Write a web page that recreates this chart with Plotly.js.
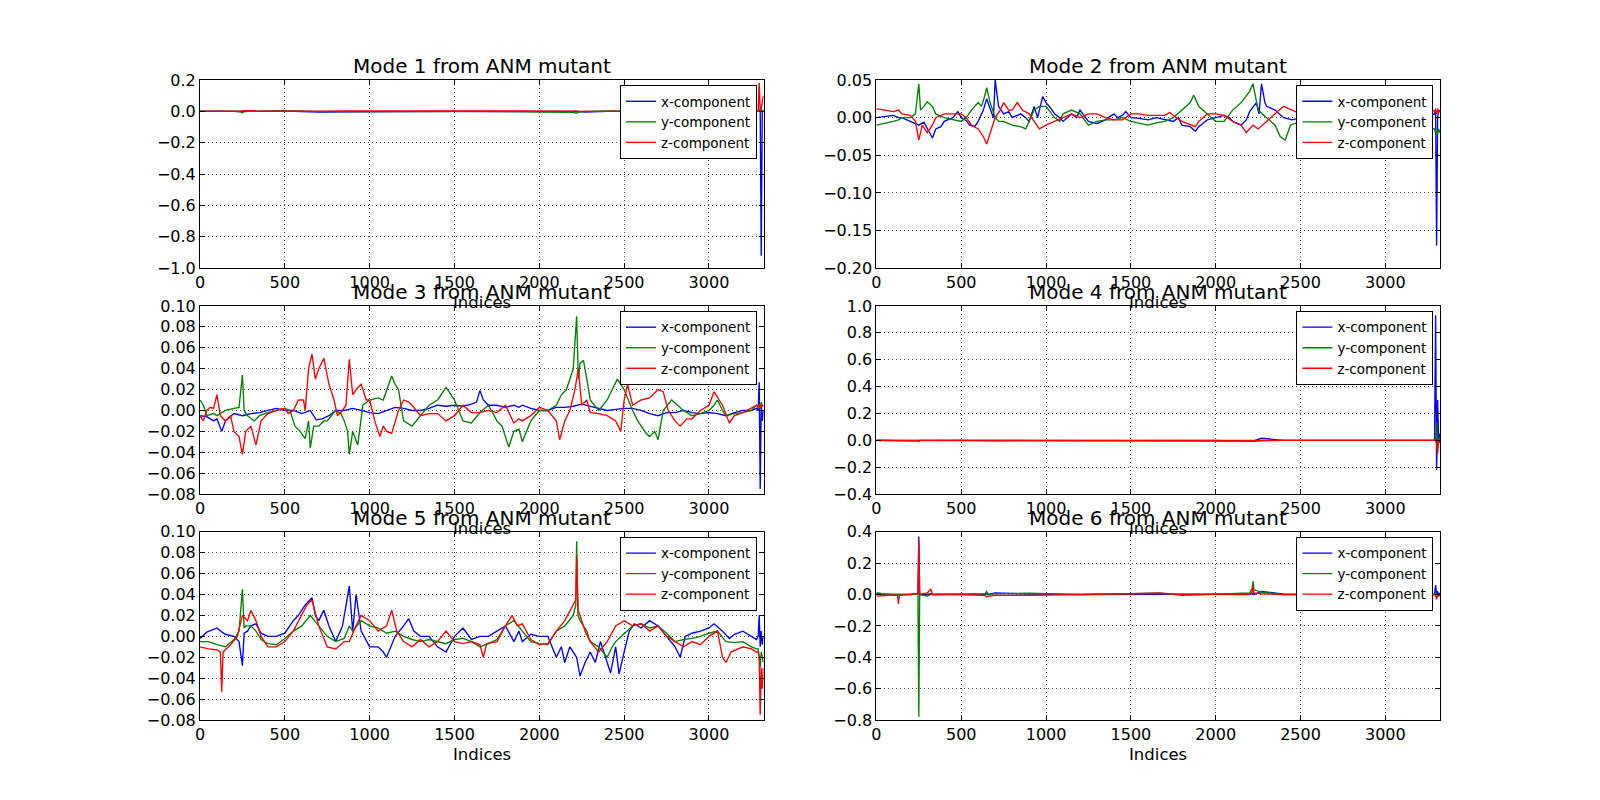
<!DOCTYPE html>
<html>
<head>
<meta charset="utf-8">
<script src="https://cdn.plot.ly/plotly-3.0.1.min.js"></script>
<style>
  html, body { margin: 0; padding: 0; background: #fff; }
  #chart { width: 1600px; height: 800px; }
</style>
</head>
<body>
<div id="chart"></div>
<script>
// indices of the last few atoms, where every mode has its end spike
const tailIdx = [3290, 3296, 3302, 3308, 3314, 3321];

// flat modes (1, 4, 6) are read at these indices only
const flatIdx = [0, 60, 100, 125, 130, 135, 200, 245, 250, 255, 300, 320, 330, 500, 640, 650, 660, 700, 900,
  1200, 1500, 1670, 1800, 2000, 2200, 2215, 2220, 2225, 2270, 2400, 2700, 3000, 3280];

// Mode 1
const m1x = [0.002, 0.003, 0.002, 0.002, 0.002, 0.002, 0.0, 0.0, -0.005, 0.0, 0.002, 0.0, 0.0, 0.002, -0.003, -0.004, -0.002,
  -0.004, -0.003, 0.0, 0.0, -0.002, -0.003, 0.0, 0.0, 0.0, 0.003, 0.0, -0.004, 0.0, 0.0, 0.0, 0.002];
const m1y = [0.0, -0.002, -0.002, 0.0, 0.0, 0.0, 0.0, -0.004, -0.01, -0.003, 0.002, 0.0, 0.0, 0.002, 0.003, 0.002, 0.0,
  -0.002, -0.003, 0.0, -0.002, 0.0, 0.0, -0.004, -0.006, -0.008, -0.012, -0.006, 0.0, 0.003, 0.0, 0.0, 0.0];
const m1z = [0.0, 0.002, 0.0, 0.0, 0.0, 0.0, 0.002, 0.003, 0.006, 0.004, 0.005, 0.004, 0.002, 0.001, 0.004, 0.003, 0.002,
  0.001, 0.003, 0.002, 0.0, 0.0, 0.002, 0.0, 0.002, 0.003, 0.005, 0.002, 0.0, 0.0, 0.0, 0.0, 0.0];
const m1xTail = [0.002, 0.0, 0.01, -0.92, 0.0, 0.005];
const m1yTail = [0.0, 0.01, 0.0, 0.02, 0.0, 0.01];
const m1zTail = [0.0, 0.18, 0.0, 0.02, 0.05, 0.1];

// Mode 2 [index, value]
const m2x = [[0,0.0],[50,0.002],[100,0.003],[130,0.0],[150,0.0],[200,-0.005],[230,-0.008],[250,-0.01],[280,-0.006],[300,-0.015],
  [330,-0.027],[350,-0.015],[380,-0.012],[400,-0.005],[450,0.0],[480,0.008],[500,0.0],[530,-0.004],[550,-0.01],[580,-0.012],
  [600,-0.005],[630,0.01],[650,0.025],[670,0.012],[690,0.0],[700,0.05],[720,0.015],[750,0.005],[780,0.008],[800,0.0],
  [850,0.005],[880,0.0],[900,-0.005],[930,0.015],[950,0.0],[980,0.028],[1000,0.02],[1030,0.012],[1050,0.005],[1080,0.0],
  [1100,-0.005],[1150,0.005],[1180,0.0],[1200,0.01],[1230,0.0],[1250,-0.005],[1300,-0.008],[1350,-0.003],[1380,0.002],[1400,0.005],
  [1420,0.0],[1450,0.003],[1470,0.008],[1500,0.0],[1550,-0.001],[1600,-0.003],[1650,0.0],[1700,-0.003],[1750,-0.005],[1780,0.0],
  [1800,-0.01],[1850,-0.012],[1880,-0.018],[1900,-0.012],[1950,-0.003],[2000,0.0],[2050,0.003],[2080,0.0],[2100,-0.005],[2150,-0.01],
  [2180,-0.003],[2200,0.008],[2240,0.02],[2255,0.005],[2270,0.045],[2290,0.02],[2300,0.015],[2350,0.01],[2400,0.0],[2450,-0.003],
  [2500,0.0],[2600,0.002],[2700,0.0],[2800,-0.003],[2900,0.0],[3000,0.002],[3100,0.0],[3200,0.003],[3280,0.005]];
const m2y = [[0,-0.01],[50,-0.008],[100,-0.005],[130,-0.003],[150,0.0],[200,0.0],[230,0.005],[250,0.045],[260,0.01],[280,0.015],
  [300,0.021],[330,0.015],[350,0.005],[400,0.0],[450,-0.003],[500,-0.005],[530,0.0],[560,0.01],[600,0.02],[620,0.015],
  [640,0.03],[650,0.04],[670,0.02],[700,0.0],[720,-0.005],[750,-0.005],[800,-0.01],[850,-0.012],[880,-0.015],[900,-0.005],
  [930,0.01],[960,0.015],[1000,0.015],[1050,0.0],[1080,-0.005],[1100,0.005],[1150,0.01],[1200,0.005],[1250,-0.01],[1300,-0.005],
  [1350,-0.003],[1400,-0.003],[1450,0.0],[1500,-0.005],[1550,-0.008],[1600,-0.01],[1650,-0.007],[1700,-0.005],[1750,0.0],[1800,0.01],
  [1850,0.02],[1870,0.03],[1900,0.015],[1950,0.005],[2000,-0.005],[2050,-0.005],[2100,0.01],[2150,0.02],[2200,0.035],[2220,0.045],
  [2250,0.01],[2300,0.0],[2350,-0.01],[2380,-0.025],[2410,-0.03],[2440,-0.01],[2500,-0.005],[2600,-0.01],[2700,-0.015],[2800,-0.01],
  [2900,-0.005],[3000,-0.01],[3100,-0.015],[3200,-0.012],[3280,-0.015]];
const m2z = [[0,0.012],[50,0.01],[100,0.008],[130,0.01],[150,0.005],[200,0.003],[230,-0.005],[250,-0.03],[270,-0.01],[300,-0.02],
  [330,-0.01],[350,0.0],[400,0.005],[450,0.005],[500,0.005],[530,0.0],[560,-0.01],[600,-0.015],[630,-0.025],[650,-0.035],
  [680,-0.015],[700,0.0],[730,0.01],[750,0.02],[780,0.01],[800,0.01],[830,0.02],[860,0.01],[900,0.005],[930,-0.005],
  [960,-0.015],[1000,-0.01],[1050,-0.005],[1100,0.0],[1150,0.005],[1200,0.0],[1250,0.005],[1300,0.005],[1350,0.0],[1400,-0.003],
  [1450,-0.003],[1500,0.005],[1550,0.005],[1600,0.003],[1650,0.003],[1700,0.003],[1730,0.007],[1750,0.003],[1800,-0.005],[1850,-0.01],
  [1880,-0.012],[1900,-0.005],[1950,0.005],[2000,0.005],[2050,0.003],[2100,-0.005],[2150,-0.01],[2180,-0.02],[2220,-0.01],[2250,-0.015],
  [2300,-0.005],[2350,0.005],[2400,0.015],[2450,0.01],[2500,0.005],[2600,0.0],[2700,0.005],[2800,0.0],[2900,0.005],[3000,0.0],
  [3100,0.005],[3200,0.008],[3280,0.01]];
const m2xTail = [0.005, 0.012, -0.17, 0.0, 0.01, 0.008];
const m2yTail = [-0.015, -0.02, -0.018, -0.022, -0.015, -0.02];
const m2zTail = [0.008, 0.01, 0.005, 0.012, 0.006, 0.01];

// Mode 3
const m3x = [[0,-0.005],[40,-0.006],[80,-0.01],[100,-0.008],[128,-0.02],[150,-0.01],[200,-0.003],[250,-0.005],[300,-0.003],[350,-0.002],
  [400,0.0],[450,0.002],[500,0.0],[550,0.0],[600,-0.003],[650,0.0],[685,-0.009],[720,-0.008],[760,-0.005],[800,0.0],
  [850,0.0],[900,0.002],[950,0.0],[1000,-0.002],[1050,-0.003],[1100,0.0],[1150,0.003],[1200,0.002],[1250,0.0],[1300,0.0],
  [1350,0.002],[1400,0.005],[1450,0.004],[1500,0.005],[1550,0.004],[1600,0.006],[1630,0.008],[1650,0.019],[1670,0.01],[1700,0.005],
  [1750,0.005],[1800,0.003],[1850,0.005],[1880,0.003],[1900,0.005],[1950,0.002],[2000,0.0],[2050,0.0],[2100,0.003],[2150,0.003],
  [2200,0.004],[2250,0.006],[2300,0.004],[2350,0.002],[2400,0.0],[2450,0.001],[2500,0.002],[2550,0.002],[2600,0.0],[2650,-0.003],
  [2700,-0.005],[2750,-0.002],[2800,-0.002],[2850,0.0],[2900,-0.002],[2950,-0.003],[3000,-0.002],[3050,-0.003],[3100,-0.005],[3150,-0.002],
  [3200,0.0],[3250,0.0],[3280,0.002]];
const m3y = [[0,0.01],[20,0.005],[40,-0.005],[80,-0.003],[100,-0.005],[150,0.0],[200,0.002],[230,0.003],[250,0.034],[260,0.0],
  [280,-0.005],[320,-0.01],[350,-0.005],[400,-0.002],[450,0.0],[500,0.002],[530,0.0],[560,-0.015],[590,-0.02],[620,-0.027],
  [640,-0.01],[650,-0.036],[670,-0.015],[700,-0.015],[730,-0.01],[750,-0.01],[800,0.0],[830,-0.003],[850,-0.01],[870,-0.02],
  [880,-0.042],[900,-0.02],[930,-0.033],[960,0.005],[1000,0.01],[1050,0.012],[1080,0.01],[1100,0.02],[1130,0.033],[1150,0.025],
  [1170,0.02],[1200,-0.01],[1250,-0.015],[1300,-0.005],[1350,0.005],[1400,0.01],[1450,0.022],[1480,0.015],[1500,0.01],[1550,-0.01],
  [1600,-0.012],[1650,-0.002],[1700,0.005],[1750,-0.01],[1780,-0.015],[1800,-0.025],[1820,-0.035],[1850,-0.02],[1880,-0.018],[1900,-0.03],
  [1950,-0.01],[2000,0.0],[2050,0.0],[2100,0.005],[2130,0.015],[2160,0.02],[2180,0.03],[2200,0.04],[2220,0.09],[2230,0.03],
  [2240,0.045],[2260,0.048],[2280,0.03],[2300,0.01],[2350,0.0],[2400,0.01],[2430,0.02],[2460,0.03],[2500,0.02],[2550,0.0],
  [2580,-0.01],[2600,-0.015],[2630,-0.022],[2650,-0.025],[2680,-0.02],[2700,-0.028],[2730,0.0],[2780,0.01],[2850,0.0],[2900,-0.005],
  [2950,-0.003],[3000,0.0],[3030,0.005],[3050,0.01],[3080,0.0],[3100,-0.005],[3150,-0.003],[3200,-0.002],[3250,0.0],[3280,0.005]];
const m3z = [[0,-0.005],[20,-0.01],[40,0.0],[60,0.003],[80,0.002],[100,0.015],[120,-0.005],[150,-0.01],[180,-0.005],[200,-0.02],
  [230,-0.025],[250,-0.042],[270,-0.02],[300,-0.015],[330,-0.033],[360,-0.01],[400,-0.003],[450,0.0],[500,0.002],[520,-0.003],
  [550,0.0],[580,0.01],[610,0.01],[620,0.0],[640,0.04],[660,0.054],[680,0.03],[700,0.04],[730,0.05],[760,0.025],
  [790,0.01],[810,-0.005],[840,0.0],[860,0.005],[880,0.049],[900,0.015],[920,0.02],[950,0.025],[980,0.01],[1000,0.01],
  [1030,-0.01],[1060,-0.025],[1080,-0.015],[1100,-0.02],[1130,-0.022],[1170,0.0],[1200,0.01],[1230,0.008],[1250,0.005],[1300,-0.005],
  [1350,-0.003],[1400,-0.003],[1450,-0.01],[1500,-0.005],[1550,0.005],[1600,-0.002],[1650,-0.002],[1700,0.0],[1750,-0.002],[1800,0.005],
  [1850,-0.012],[1880,-0.008],[1900,-0.01],[1950,-0.005],[2000,0.003],[2050,0.0],[2100,-0.01],[2120,-0.028],[2150,-0.01],[2180,0.0],
  [2210,0.02],[2230,0.04],[2250,0.005],[2280,0.01],[2300,-0.002],[2350,-0.003],[2400,-0.005],[2450,-0.01],[2480,-0.02],[2500,0.01],
  [2520,0.025],[2550,0.005],[2600,0.01],[2650,0.012],[2700,0.02],[2730,0.018],[2760,0.0],[2800,-0.01],[2830,-0.015],[2870,-0.008],
  [2900,-0.008],[2950,0.0],[3000,0.005],[3030,0.018],[3060,0.01],[3080,0.005],[3120,-0.012],[3150,-0.005],[3200,-0.002],[3250,0.002],
  [3280,0.005]];
const m3xTail = [0.0, 0.027, -0.075, 0.005, -0.01, 0.0];
const m3yTail = [0.003, 0.006, 0.002, 0.008, 0.004, 0.005];
const m3zTail = [0.004, 0.002, 0.006, 0.003, 0.005, 0.004];

// Mode 4
const m4x = [0.002, 0.0, 0.0, 0.0, 0.0, 0.0, 0.0, 0.0, -0.003, 0.0, 0.0, 0.0, 0.0, 0.0, -0.004, -0.005, -0.004,
  -0.003, -0.002, 0.0, 0.0, 0.0, 0.0, 0.0, -0.005, -0.008, -0.006, -0.004, 0.015, 0.0, 0.0, 0.0, 0.0];
const m4y = [0.0, 0.0, 0.0, 0.0, 0.0, 0.0, 0.0, -0.005, -0.01, 0.0, 0.0, 0.0, 0.0, 0.0, 0.0, 0.0, 0.0,
  0.0, 0.0, 0.0, 0.0, 0.0, 0.0, 0.0, -0.006, -0.01, -0.012, -0.008, -0.004, 0.0, 0.0, 0.0, 0.0];
const m4z = [-0.002, -0.002, 0.0, 0.0, 0.0, 0.0, 0.0, 0.0, 0.002, 0.0, 0.0, 0.0, 0.0, 0.0, -0.004, -0.005, -0.004,
  -0.003, -0.002, 0.0, 0.0, 0.0, 0.0, 0.0, 0.0, 0.0, 0.002, 0.0, 0.0, 0.0, 0.0, 0.0, 0.0];
const m4xTail = [0.0, 0.93, -0.22, 0.3, 0.0, 0.05];
const m4yTail = [0.0, 0.0, 0.13, -0.05, 0.0, 0.02];
const m4zTail = [0.0, 0.0, -0.03, -0.1, 0.0, -0.02];

// Mode 5
const m5x = [[0,-0.002],[40,0.004],[70,0.006],[100,0.008],[130,0.004],[150,0.002],[200,0.0],[230,-0.005],[250,-0.028],[260,0.003],
  [280,0.005],[300,0.01],[330,0.012],[360,0.003],[400,0.0],[450,0.0],[500,0.003],[550,0.015],[580,0.02],[620,0.03],
  [660,0.037],[680,0.02],[700,0.015],[730,0.025],[760,0.01],[800,-0.005],[840,0.01],[880,0.048],[900,0.005],[920,0.04],
  [950,0.005],[1000,-0.01],[1050,-0.01],[1080,-0.015],[1100,-0.02],[1150,0.0],[1200,0.01],[1230,0.017],[1260,0.005],[1300,0.0],
  [1350,0.0],[1400,-0.01],[1450,-0.015],[1500,0.0],[1550,0.008],[1600,-0.003],[1650,0.0],[1700,0.0],[1750,0.005],[1800,0.01],
  [1850,-0.005],[1880,0.005],[1900,-0.005],[1950,0.002],[2000,0.0],[2050,0.0],[2100,-0.02],[2130,-0.01],[2150,-0.025],[2180,-0.01],
  [2220,-0.02],[2240,-0.038],[2270,-0.025],[2300,-0.015],[2330,-0.025],[2360,-0.005],[2400,-0.025],[2420,-0.035],[2450,-0.01],[2470,-0.036],
  [2500,-0.015],[2530,0.005],[2560,0.012],[2600,0.008],[2650,0.015],[2700,0.01],[2750,0.0],[2800,-0.01],[2830,-0.02],[2860,0.0],
  [2900,0.003],[2950,0.005],[3000,0.008],[3030,0.012],[3080,0.005],[3120,-0.002],[3150,0.002],[3200,0.005],[3250,0.0],[3280,-0.003]];
const m5y = [[0,-0.005],[50,-0.005],[100,-0.008],[150,-0.01],[200,-0.003],[230,0.005],[250,0.045],[260,0.008],[270,0.01],[300,0.01],
  [330,0.005],[360,-0.003],[400,-0.007],[450,-0.008],[500,-0.002],[550,0.005],[600,0.01],[650,0.02],[700,0.01],[750,0.0],
  [800,-0.005],[850,-0.002],[880,0.01],[900,0.005],[950,0.015],[1000,0.01],[1050,0.008],[1100,0.003],[1150,0.005],[1200,0.0],
  [1250,-0.003],[1300,-0.005],[1350,-0.003],[1400,-0.005],[1450,-0.007],[1500,-0.003],[1550,-0.002],[1600,-0.005],[1650,-0.01],[1700,-0.007],
  [1750,-0.003],[1800,0.01],[1850,0.015],[1900,0.005],[1950,-0.005],[2000,-0.007],[2050,-0.008],[2100,0.005],[2150,0.01],[2200,0.02],
  [2215,0.03],[2220,0.091],[2228,0.02],[2240,0.015],[2280,0.005],[2300,-0.005],[2350,-0.01],[2400,-0.02],[2430,-0.01],[2450,-0.005],
  [2500,0.003],[2550,0.01],[2600,0.012],[2650,0.008],[2700,0.01],[2750,0.003],[2800,-0.005],[2850,-0.003],[2900,-0.002],[2950,0.0],
  [3000,0.003],[3050,0.005],[3100,-0.005],[3150,-0.006],[3200,-0.005],[3250,-0.01],[3280,-0.012]];
const m5z = [[0,-0.01],[50,-0.012],[100,-0.013],[120,-0.015],[128,-0.053],[136,-0.015],[180,-0.008],[220,0.0],[250,0.02],[280,0.015],
  [300,0.025],[330,0.015],[360,0.0],[400,-0.01],[450,-0.01],[500,-0.005],[550,0.005],[600,0.02],[630,0.03],[660,0.035],
  [700,0.01],[750,-0.01],[800,-0.012],[850,-0.005],[880,-0.005],[920,0.01],[950,0.02],[1000,0.015],[1050,0.005],[1100,0.01],
  [1130,0.025],[1160,0.005],[1200,-0.005],[1250,-0.01],[1300,-0.003],[1350,-0.01],[1400,-0.005],[1450,0.005],[1500,-0.005],[1550,-0.007],
  [1600,-0.005],[1650,-0.008],[1670,-0.02],[1690,-0.007],[1750,-0.005],[1800,0.01],[1840,0.02],[1870,0.01],[1900,0.012],[1950,-0.003],
  [2000,-0.008],[2050,-0.007],[2100,0.005],[2150,0.015],[2200,0.03],[2215,0.035],[2220,0.077],[2228,0.025],[2240,0.02],[2270,0.005],
  [2300,-0.005],[2350,-0.015],[2400,-0.005],[2450,0.01],[2500,0.015],[2550,0.01],[2600,0.012],[2650,0.005],[2700,0.01],[2750,0.0],
  [2800,-0.005],[2850,-0.01],[2900,-0.005],[2950,-0.008],[3000,0.0],[3050,0.005],[3080,-0.02],[3100,-0.025],[3130,-0.015],[3200,-0.01],
  [3250,-0.012],[3280,-0.015]];
const m5xTail = [0.0, 0.02, -0.01, 0.005, -0.008, 0.0];
const m5yTail = [-0.012, -0.02, -0.03, -0.015, -0.02, -0.025];
const m5zTail = [-0.015, -0.02, -0.075, -0.03, -0.05, -0.03];

// Mode 6
const m6x = [0.005, 0.0, 0.0, 0.0, 0.0, 0.0, 0.0, 0.005, 0.37, 0.0, 0.0, 0.005, 0.0, 0.002, 0.0, 0.005, 0.0,
  0.01, 0.003, 0.0, 0.003, 0.005, 0.002, 0.002, 0.0, 0.005, 0.01, 0.0, 0.02, 0.003, 0.002, 0.002, 0.0];
const m6y = [0.012, 0.0, 0.0, 0.0, 0.0, 0.0, 0.0, 0.005, -0.78, 0.0, -0.01, 0.0, 0.0, 0.003, 0.005, 0.02, 0.0,
  0.005, 0.008, 0.0, 0.005, 0.01, -0.005, 0.002, 0.01, 0.04, 0.085, 0.03, 0.015, 0.0, 0.002, 0.0, 0.0];
const m6z = [-0.01, -0.005, -0.003, -0.005, -0.06, -0.005, 0.0, 0.005, 0.34, 0.0, 0.01, 0.035, 0.0, 0.0, -0.005, -0.015, -0.01,
  -0.005, -0.005, 0.0, 0.002, 0.008, 0.0, 0.0, 0.002, 0.02, 0.055, 0.01, 0.005, 0.0, 0.0, 0.0, 0.0];
const m6xTail = [0.0, 0.06, 0.0, 0.02, 0.0, 0.01];
const m6yTail = [0.0, 0.01, 0.0, -0.005, 0.0, 0.0];
const m6zTail = [0.0, -0.005, -0.03, 0.0, -0.01, 0.0];

const compNames = ['x-component', 'y-component', 'z-component'];
const compColors = ['#0000ff', '#008000', '#ff0000'];
const yRanges = [[-1.0, 0.2], [-0.2, 0.05], [-0.08, 0.10], [-0.4, 1.0], [-0.08, 0.10], [-0.8, 0.4]];
const yDticks = [0.2, 0.05, 0.02, 0.2, 0.02, 0.2];
const yFormats = ['.1f', '.2f', '.2f', '.1f', '.2f', '.1f'];
const xTicks = [0, 500, 1000, 1500, 2000, 2500, 3000];

function fromPairs(p, tail) {
    return { x: p.map(d => d[0]).concat(tailIdx), y: p.map(d => d[1]).concat(tail) };
}
function fromFlat(v, tail) {
    return { x: flatIdx.concat(tailIdx), y: v.concat(tail) };
}

const modes = [
    [fromFlat(m1x, m1xTail), fromFlat(m1y, m1yTail), fromFlat(m1z, m1zTail)],
    [fromPairs(m2x, m2xTail), fromPairs(m2y, m2yTail), fromPairs(m2z, m2zTail)],
    [fromPairs(m3x, m3xTail), fromPairs(m3y, m3yTail), fromPairs(m3z, m3zTail)],
    [fromFlat(m4x, m4xTail), fromFlat(m4y, m4yTail), fromFlat(m4z, m4zTail)],
    [fromPairs(m5x, m5xTail), fromPairs(m5y, m5yTail), fromPairs(m5z, m5zTail)],
    [fromFlat(m6x, m6xTail), fromFlat(m6y, m6yTail), fromFlat(m6z, m6zTail)]
];

// matplotlib default subplot grid (16x8 in @ 100 dpi): 2 cols x 3 rows
const W = 1600, H = 800;
const colPx = [[200, 763.6], [876.4, 1440]];
const rowPx = [[80, 268.2], [305.9, 494.1], [531.8, 720]];
const FONT = 'DejaVu Sans, Verdana, sans-serif';

const traces = [];
const layout = {
    width: W, height: H, margin: {l: 0, r: 0, t: 0, b: 0},
    paper_bgcolor: '#fff', plot_bgcolor: '#fff',
    font: {family: FONT, color: '#000'},
    annotations: []
};

modes.forEach((series, i) => {
    const n = i + 1;
    const sfx = n === 1 ? '' : String(n);
    const col = i % 2, row = Math.floor(i / 2);
    const [x0, x1] = colPx[col], [y0, y1] = rowPx[row];

    series.forEach((s, k) => {
        traces.push({
            x: s.x, y: s.y, type: 'scatter', mode: 'lines',
            name: compNames[k], line: {color: compColors[k], width: 1.35},
            xaxis: 'x' + sfx, yaxis: 'y' + sfx, legend: 'legend' + sfx,
            hoverinfo: 'skip'
        });
    });

    const common = {
        showline: true, linecolor: '#000', linewidth: 1, mirror: 'ticks',
        ticks: 'inside', ticklen: 5, tickwidth: 1, tickcolor: '#000',
        showgrid: true, gridcolor: '#000', gridwidth: 0.7, griddash: '1px,3px',
        zeroline: false, tickfont: {family: FONT, size: 16, color: '#000'}
    };
    layout['xaxis' + sfx] = Object.assign({}, common, {
        domain: [x0 / W, x1 / W], anchor: 'y' + sfx,
        range: [0, 3322], tickvals: xTicks
    });
    layout['yaxis' + sfx] = Object.assign({}, common, {
        domain: [1 - y1 / H, 1 - y0 / H], anchor: 'x' + sfx,
        range: yRanges[i], tick0: 0, dtick: yDticks[i], tickformat: yFormats[i]
    });
    layout['legend' + sfx] = {
        x: (x1 - 6.6) / W, y: 1 - (y0 + 5) / H, xanchor: 'right', yanchor: 'top',
        xref: 'paper', yref: 'paper',
        bgcolor: '#fff', bordercolor: '#000', borderwidth: 1,
        font: {family: FONT, size: 13.5, color: '#000'},
        itemwidth: 30, tracegroupgap: 0
    };
    layout.annotations.push({
        text: 'Mode ' + n + ' from ANM mutant', showarrow: false,
        xref: 'paper', yref: 'paper', x: (x0 + x1) / 2 / W, y: 1 - (y0 - 14) / H,
        xanchor: 'center', yanchor: 'middle', font: {family: FONT, size: 20, color: '#000'}
    });
    layout.annotations.push({
        text: 'Indices', showarrow: false,
        xref: 'paper', yref: 'paper', x: (x0 + x1) / 2 / W, y: 1 - (y1 + 34) / H,
        xanchor: 'center', yanchor: 'middle', font: {family: FONT, size: 16.5, color: '#000'}
    });
});

Plotly.newPlot('chart', traces, layout, {staticPlot: true, displayModeBar: false});
</script>
</body>
</html>
